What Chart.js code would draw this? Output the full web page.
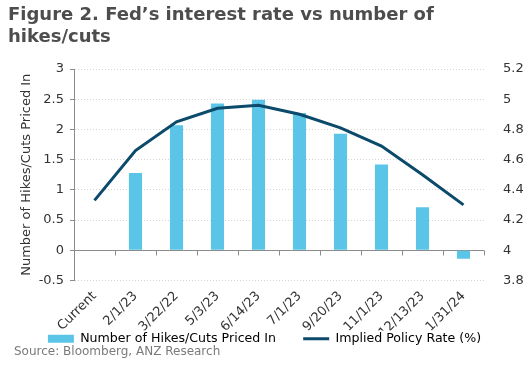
<!DOCTYPE html>
<html>
<head>
<meta charset="utf-8">
<script src="https://cdn.jsdelivr.net/npm/chart.js@4.4.1/dist/chart.umd.min.js"></script>
<style>
  html, body { margin: 0; padding: 0; background: #fff; }
  #wrap { position: relative; width: 529px; height: 365px; }
  #title {
    position: absolute; left: 8px; top: 3px;
    font: bold 18px "DejaVu Sans", Verdana, sans-serif;
    line-height: 22px; color: #4d4d4d;
  }
  #source {
    position: absolute; left: 14px; top: 344px;
    font: 12px "DejaVu Sans", Verdana, sans-serif; color: #7a7a7a;
  }
</style>
</head>
<body>
<div id="wrap">
  <canvas id="fedChart" width="529" height="365"></canvas>
  <div id="title">Figure 2. Fed’s interest rate vs number of<br>hikes/cuts</div>
  <div id="source">Source: Bloomberg, ANZ Research</div>
</div>
<script>
const meetings = ['Current', '2/1/23', '3/22/22', '5/3/23', '6/14/23', '7/1/23', '9/20/23', '11/1/23', '12/13/23', '1/31/24'];
const hikesPriced = [null, 1.28, 2.07, 2.43, 2.49, 2.27, 1.93, 1.42, 0.71, -0.14];
const policyRate = [4.33, 4.66, 4.85, 4.94, 4.96, 4.90, 4.81, 4.69, 4.50, 4.30];
const leftTicks = [-0.5, 0, 0.5, 1, 1.5, 2, 2.5, 3];
const rightTicks = [3.8, 4, 4.2, 4.4, 4.6, 4.8, 5, 5.2];

const barColor = 'rgb(91, 197, 232)';
const lineColor = 'rgb(11, 74, 107)';
const axisGrey = '#8c8c8c';
const font = { family: '"DejaVu Sans", Verdana, sans-serif', size: 13 };

// zero line with small tick marks between the categories
const zeroAxis = {
    id: 'zeroAxis',
    beforeDatasetsDraw(chart) {
        const { ctx, chartArea, scales: { x, y } } = chart;
        const y0 = Math.round(y.getPixelForValue(0)) + 0.5;
        ctx.save();
        ctx.strokeStyle = axisGrey;
        ctx.lineWidth = 1;
        ctx.beginPath();
        ctx.moveTo(chartArea.left, y0);
        ctx.lineTo(chartArea.right, y0);
        for (let i = 0; i < meetings.length; i++) {
            const px = Math.round(x.getPixelForValue(i + 0.5)) + 0.5;
            ctx.moveTo(px, y0);
            ctx.lineTo(px, y0 + 5);
        }
        ctx.stroke();
        ctx.restore();
    }
};

new Chart(document.getElementById('fedChart'), {
    data: {
        labels: meetings,
        datasets: [{
            type: 'line',
            label: 'Implied Policy Rate (%)',
            data: policyRate,
            yAxisID: 'y1',
            borderColor: lineColor,
            borderWidth: 3,
            pointRadius: 0,
            tension: 0,
            order: 0
        }, {
            type: 'bar',
            label: 'Number of Hikes/Cuts Priced In',
            data: hikesPriced,
            yAxisID: 'y',
            backgroundColor: barColor,
            borderWidth: 0,
            barPercentage: 0.32,
            categoryPercentage: 1,
            order: 1
        }]
    },
    options: {
        responsive: false,
        animation: false,
        layout: { padding: { top: 69, bottom: 10, left: 0, right: 0 } },
        plugins: {
            tooltip: { enabled: false },
            legend: {
                position: 'bottom',
                labels: {
                    color: '#222',
                    font: { family: font.family, size: 12.6 },
                    usePointStyle: true,
                    pointStyleWidth: 26,
                    boxHeight: 8,
                    padding: 2,
                    generateLabels(chart) {
                        return [{
                            text: 'Number of Hikes/Cuts Priced In\u2003\u2003',
                            fillStyle: barColor,
                            strokeStyle: barColor,
                            lineWidth: 0,
                            pointStyle: 'rect',
                            datasetIndex: 1
                        }, {
                            text: 'Implied Policy Rate (%)',
                            fillStyle: lineColor,
                            strokeStyle: lineColor,
                            lineWidth: 3,
                            pointStyle: 'line',
                            datasetIndex: 0
                        }];
                    }
                }
            }
        },
        scales: {
            x: {
                offset: true,
                grid: { display: false },
                border: { display: false },
                ticks: { color: '#333', font: font, maxRotation: 45, minRotation: 45, padding: 0 },
                afterFit(scale) { scale.height = 50; }
            },
            y: {
                position: 'left',
                min: -0.5,
                max: 3,
                afterBuildTicks(scale) { scale.ticks = leftTicks.map(v => ({ value: v })); },
                ticks: { color: '#333', font: font, padding: 6, callback: v => String(v) },
                grid: { color: '#d4d4d4', tickColor: axisGrey, tickLength: 4 },
                border: { display: true, color: axisGrey, dash: [1, 2] },
                title: {
                    display: true,
                    text: 'Number of Hikes/Cuts Priced In',
                    color: '#333',
                    font: font,
                    padding: { top: 19, bottom: 0 }
                },
                afterFit(scale) { scale.width = 74; }
            },
            y1: {
                position: 'right',
                min: 3.8,
                max: 5.2,
                afterBuildTicks(scale) { scale.ticks = rightTicks.map(v => ({ value: v })); },
                ticks: { color: '#333', font: font, padding: 11, callback: v => String(v) },
                grid: { display: false, drawOnChartArea: false },
                border: { display: false },
                afterFit(scale) { scale.width = 45; }
            }
        }
    },
    plugins: [zeroAxis]
});
</script>
</body>
</html>
